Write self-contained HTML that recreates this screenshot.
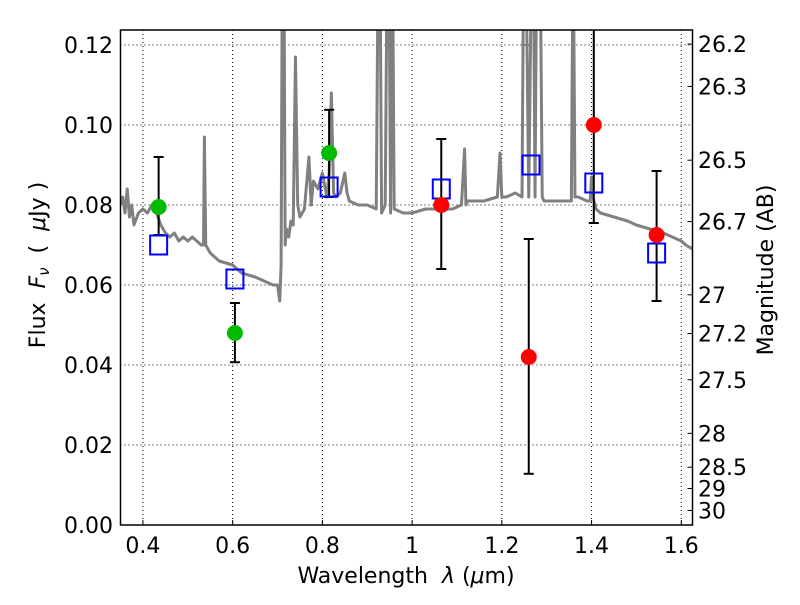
<!DOCTYPE html>
<html><head><meta charset="utf-8"><style>
body{margin:0;background:#fff}
svg text{font-family:"DejaVu Sans","Liberation Sans",sans-serif;fill:#000}
</style></head><body>
<svg id="chart" width="800" height="600" xmlns="http://www.w3.org/2000/svg">
<rect width="800" height="600" fill="#fff"/>
<g id="grid"></g>
<g id="spec"></g>
<g id="pts"></g>
<rect x="120.5" y="30" width="572" height="495" fill="none" stroke="#000" stroke-width="1.5"/>
<g id="axes"></g>
<text x="406" y="583" font-size="22" text-anchor="middle">Wavelength&#160;&#160;<tspan font-style="italic">λ</tspan>&#160;(<tspan font-style="italic">μ</tspan>m)</text>
<text transform="translate(45,265) rotate(-90)" font-size="22" text-anchor="middle">Flux&#160;&#160;<tspan font-style="italic">F<tspan font-size="15" dy="4">ν</tspan></tspan><tspan dy="-4">&#160;&#160;(&#160;&#160;</tspan><tspan font-style="italic">μ</tspan>Jy&#160;)</text>
<text transform="translate(773,270) rotate(-90)" font-size="22" text-anchor="middle">Magnitude (AB)</text>
</svg>
<script>
const xTicks=[0.4,0.6,0.8,1.0,1.2,1.4,1.6];
const xTickLabels=["0.4","0.6","0.8","1","1.2","1.4","1.6"];
const yTicks=[0,0.02,0.04,0.06,0.08,0.10,0.12];
const yTickLabels=["0.00","0.02","0.04","0.06","0.08","0.10","0.12"];
const magTicks=[26.2,26.3,26.5,26.7,27,27.2,27.5,28,28.5,29,30];
const specWave=[0.35,0.355,0.36,0.365,0.37,0.375,0.38,0.39,0.40,0.41,0.42,0.43,0.44,0.45,0.46,0.47,0.48,0.49,0.50,0.51,0.52,0.53,0.535,0.537,0.54,0.55,0.57,0.60,0.62,0.65,0.67,0.69,0.70,0.705,0.708,0.711,0.714,0.717,0.72,0.725,0.73,0.735,0.74,0.745,0.75,0.76,0.77,0.775,0.78,0.79,0.80,0.81,0.815,0.82,0.825,0.83,0.84,0.85,0.855,0.86,0.88,0.90,0.92,0.925,0.928,0.932,0.936,0.94,0.945,0.948,0.952,0.956,0.96,0.98,1.00,1.03,1.06,1.09,1.11,1.117,1.12,1.123,1.13,1.16,1.19,1.196,1.2,1.204,1.21,1.23,1.245,1.249,1.253,1.26,1.267,1.27,1.274,1.278,1.285,1.29,1.294,1.30,1.33,1.355,1.359,1.363,1.37,1.39,1.397,1.40,1.403,1.41,1.42,1.45,1.48,1.50,1.53,1.56,1.58,1.60,1.61,1.625];
const specFlux=[0.080,0.082,0.078,0.084,0.077,0.080,0.075,0.078,0.079,0.078,0.080,0.078,0.075,0.073,0.072,0.073,0.071,0.072,0.071,0.072,0.071,0.070,0.070,0.097,0.070,0.068,0.066,0.065,0.063,0.062,0.061,0.060,0.060,0.056,0.065,0.15,0.15,0.070,0.074,0.072,0.076,0.075,0.117,0.080,0.077,0.079,0.092,0.080,0.086,0.084,0.088,0.082,0.088,0.108,0.083,0.082,0.083,0.088,0.083,0.081,0.080,0.080,0.079,0.15,0.15,0.078,0.079,0.080,0.15,0.15,0.078,0.15,0.079,0.078,0.078,0.079,0.079,0.079,0.080,0.094,0.080,0.081,0.081,0.081,0.082,0.093,0.082,0.082,0.082,0.083,0.082,0.15,0.15,0.082,0.15,0.15,0.082,0.15,0.15,0.082,0.081,0.081,0.081,0.081,0.15,0.082,0.082,0.081,0.081,0.087,0.082,0.079,0.078,0.077,0.076,0.075,0.074,0.073,0.072,0.071,0.070,0.069];
const bandWave=[0.435,0.605,0.815,1.065,1.265,1.405,1.545];
const modelFlux=[0.070,0.0615,0.0845,0.084,0.090,0.0855,0.068];
const greenWave=[0.435,0.605,0.815];
const greenFlux=[0.0795,0.048,0.093];
const greenLo=[0.0725,0.0407,0.082];
const greenHi=[0.092,0.0555,0.1038];
const redWave=[1.065,1.26,1.405,1.545];
const redFlux=[0.080,0.042,0.100,0.0725];
const redLo=[0.064,0.0128,0.0755,0.056];
const redHi=[0.0965,0.0715,0.13,0.0885];
const X0=0.35,X1=1.625,PX0=120.5,PX1=692.5,PY0=525,PY1=30,Y1=0.12375;
const sx=v=>PX0+(v-X0)/(X1-X0)*(PX1-PX0);
const sy=v=>PY0-v/Y1*(PY0-PY1);
const NS="http://www.w3.org/2000/svg";
function mk(tag,attrs,parent){const e=document.createElementNS(NS,tag);for(const k in attrs)e.setAttribute(k,attrs[k]);parent.appendChild(e);return e;}
const grid=document.getElementById('grid'),axes=document.getElementById('axes'),spec=document.getElementById('spec'),pts=document.getElementById('pts');
xTicks.forEach((t,i)=>{const x=sx(t);
 let l=mk('line',{x1:x,x2:x,y1:PY1,y2:PY0,stroke:'#000','stroke-width':1,'stroke-dasharray':'1,3'},grid);
 
 let k=mk('line',{x1:x,x2:x,y1:PY0,y2:PY0-5,stroke:'#000'},axes);
 
 let tx=mk('text',{x:x,y:553,'font-size':22,'text-anchor':'middle'},axes);tx.textContent=xTickLabels[i];
 });
yTicks.forEach((t,i)=>{const y=sy(t);
 let l=mk('line',{x1:PX0,x2:PX1,y1:y,y2:y,stroke:'#000','stroke-width':1,'stroke-dasharray':'1,3'},grid);
 
 let tx=mk('text',{x:113,y:y+8,'font-size':22,'text-anchor':'end'},axes);tx.textContent=yTickLabels[i];
 });
magTicks.forEach(m=>{const y=sy(Math.pow(10,(23.9-m)/2.5));
 let k=mk('line',{x1:PX1,x2:PX1-5,y1:y,y2:y,stroke:'#000'},axes);
 
 let tx=mk('text',{x:698,y:y+8,'font-size':22},axes);tx.textContent=String(m);
 });
const cp=mk('clipPath',{id:'clip'},spec);mk('rect',{x:PX0,y:PY1,width:PX1-PX0,height:PY0-PY1},cp);
const pl=mk('polyline',{points:specWave.map((w,i)=>sx(w)+','+sy(specFlux[i])).join(' '),fill:'none',stroke:'#808080','stroke-width':3,'stroke-linejoin':'round','clip-path':'url(#clip)'},spec);

function err(w,lo,hi){const x=sx(w),a=sy(Math.min(hi,Y1)),b=sy(lo);
 let g=mk('g',{stroke:'#000','stroke-width':2},pts);
 
 mk('line',{x1:x,x2:x,y1:a,y2:b},g);mk('line',{x1:x-5,x2:x+5,y1:b,y2:b},g);
 if(hi<=Y1)mk('line',{x1:x-5,x2:x+5,y1:a,y2:a},g);}
greenWave.forEach((w,i)=>err(w,greenLo[i],greenHi[i]));
redWave.forEach((w,i)=>err(w,redLo[i],redHi[i]));
bandWave.forEach((w,i)=>{let r=mk('rect',{x:sx(w)-8.5,y:sy(modelFlux[i])-9.5,width:17,height:19,fill:'none',stroke:'#0000ff','stroke-width':2},pts);
 });
greenWave.forEach((w,i)=>{let c=mk('circle',{cx:sx(w),cy:sy(greenFlux[i]),r:8,fill:'#00bb00'},pts);
 });
redWave.forEach((w,i)=>{let c=mk('circle',{cx:sx(w),cy:sy(redFlux[i]),r:8,fill:'#ff0000'},pts);
 });
</script>
</body></html>
